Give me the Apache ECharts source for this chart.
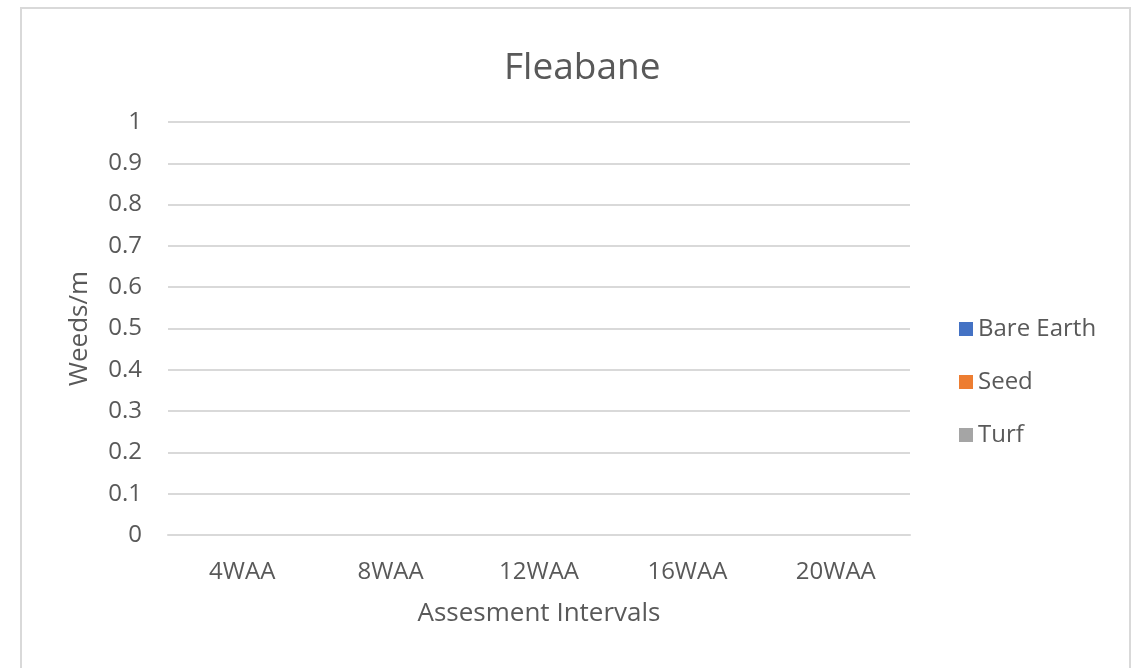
<!DOCTYPE html>
<html>
<head>
<meta charset="utf-8">
<script src="https://cdn.jsdelivr.net/npm/echarts@6/dist/echarts.min.js"></script>
<style>
  html, body { margin: 0; padding: 0; background: #fff; }
  #chart { width: 1138px; height: 668px; }
</style>
</head>
<body>
<div id="chart"></div>
<script>
  // assessment intervals and weed counts (all zero in the source)
  var categories = ['4WAA', '8WAA', '12WAA', '16WAA', '20WAA']
  var bareEarth = [0, 0, 0, 0, 0]
  var seed = [0, 0, 0, 0, 0]
  var turf = [0, 0, 0, 0, 0]

  var fontFamily = '"Open Sans", "DejaVu Sans", sans-serif'
  var textColor = '#595959'

  var myChart = echarts.init(document.getElementById('chart'))
  myChart.setOption({
    animation: false,
    textStyle: { fontFamily: fontFamily },
    title: {
      text: 'Fleabane',
      left: 499,
      top: 45,
      textStyle: { fontSize: 37, fontWeight: 'normal', color: textColor, fontFamily: fontFamily }
    },
    graphic: [{
      type: 'rect',
      shape: { x: 21, y: 8, width: 1109, height: 700 },
      style: { fill: 'none', stroke: '#d9d9d9', lineWidth: 2 },
      silent: true
    }],
    legend: {
      orient: 'vertical',
      left: 954,
      top: 312,
      itemWidth: 14,
      itemHeight: 14,
      itemGap: 29,
      icon: 'rect',
      textStyle: { fontSize: 24, color: textColor, fontFamily: fontFamily },
      data: ['Bare Earth', 'Seed', 'Turf']
    },
    grid: { left: 168, right: 228, top: 122, bottom: 133 },
    xAxis: {
      type: 'category',
      data: categories,
      name: 'Assesment Intervals',
      nameLocation: 'middle',
      nameGap: 66,
      nameTextStyle: { fontSize: 26, color: textColor },
      axisLine: { lineStyle: { color: '#d9d9d9', width: 2 } },
      axisTick: { show: false },
      axisLabel: { fontSize: 24, color: textColor, margin: 25 }
    },
    yAxis: {
      type: 'value',
      min: 0,
      max: 1,
      interval: 0.1,
      name: 'Weeds/m',
      nameLocation: 'middle',
      nameGap: 75,
      nameTextStyle: { fontSize: 26, color: textColor },
      axisLine: { show: false },
      axisTick: { show: false },
      splitLine: { lineStyle: { color: '#d9d9d9', width: 2 } },
      axisLabel: {
        fontSize: 24,
        color: textColor,
        margin: 26,
        formatter: function (v) { return String(+v.toFixed(1)) }
      }
    },
    series: [
      { name: 'Bare Earth', type: 'bar', data: bareEarth, itemStyle: { color: '#4472c4' } },
      { name: 'Seed', type: 'bar', data: seed, itemStyle: { color: '#ed7d31' } },
      { name: 'Turf', type: 'bar', data: turf, itemStyle: { color: '#a5a5a5' } }
    ]
  })
</script>
</body>
</html>
